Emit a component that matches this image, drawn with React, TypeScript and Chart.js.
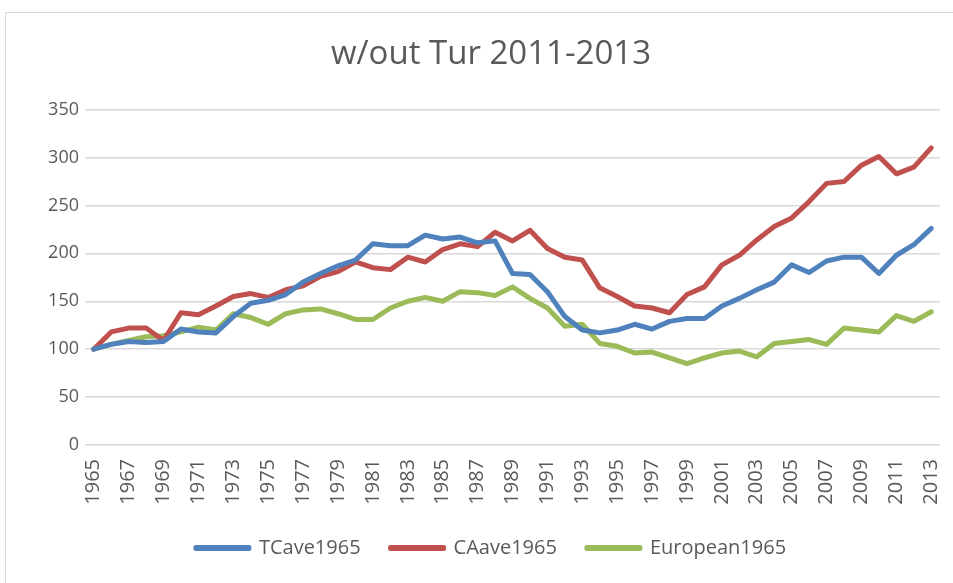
import { useEffect, useRef } from "react";
import { Chart, registerables } from "chart.js";

Chart.register(...registerables);

const years = [
  "1965", "1966", "1967", "1968", "1969", "1970", "1971", "1972", "1973", "1974",
  "1975", "1976", "1977", "1978", "1979", "1980", "1981", "1982", "1983", "1984",
  "1985", "1986", "1987", "1988", "1989", "1990", "1991", "1992", "1993", "1994",
  "1995", "1996", "1997", "1998", "1999", "2000", "2001", "2002", "2003", "2004",
  "2005", "2006", "2007", "2008", "2009", "2010", "2011", "2012", "2013",
];

const tcave1965 = [
  100, 105, 108, 107, 108, 121, 118, 117, 134, 148,
  151, 157, 170, 179, 187, 193, 210, 208, 208, 219,
  215, 217, 211, 213, 179, 178, 160, 134, 120, 117,
  120, 126, 121, 129, 132, 132, 145, 153, 162, 170,
  188, 180, 192, 196, 196, 179, 198, 209, 226,
];

const caave1965 = [
  100, 118, 122, 122, 109, 138, 136, 145, 155, 158,
  154, 162, 166, 176, 181, 191, 185, 183, 196, 191,
  204, 210, 207, 222, 213, 224, 205, 196, 193, 164,
  155, 145, 143, 138, 157, 165, 188, 198, 214, 228,
  237, 254, 273, 275, 292, 301, 283, 290, 310,
];

const european1965 = [
  100, 105, 109, 113, 114, 118, 123, 120, 137, 133,
  126, 137, 141, 142, 137, 131, 131, 143, 150, 154,
  150, 160, 159, 156, 165, 153, 143, 124, 126, 106,
  103, 96, 97, 91, 85, 91, 96, 98, 92, 106,
  108, 110, 105, 122, 120, 118, 135, 129, 139,
];

const seriesNames = ["TCave1965", "CAave1965", "European1965"];
const seriesColors = ["#4F81BD", "#C0504D", "#9BBB59"];
const titleText = "w/out Tur 2011-2013";

const textColor = "#595959";
const fontFamily = "'Open Sans', 'Liberation Sans', sans-serif";

export default function App() {
  const ref = useRef<HTMLCanvasElement | null>(null);

  useEffect(() => {
    if (!ref.current) return;
    const values = [tcave1965, caave1965, european1965];
    const chart = new Chart(ref.current, {
      type: "line",
      data: {
        labels: years,
        datasets: values.map((d, i) => ({
          label: seriesNames[i],
          data: d,
          borderColor: seriesColors[i],
          backgroundColor: seriesColors[i],
          borderWidth: 5,
          pointRadius: 0,
          pointHoverRadius: 0,
          tension: 0,
          borderJoinStyle: "round" as const,
          borderCapStyle: "round" as const,
          fill: false,
        })),
      },
      options: {
        animation: false,
        responsive: false,
        devicePixelRatio: 1,
        layout: { padding: { left: 42, right: 13, top: 0, bottom: 15 } },
        plugins: {
          title: {
            display: true,
            text: titleText,
            color: textColor,
            font: { family: fontFamily, size: 33, weight: "normal" },
            padding: { top: 35, bottom: 35 },
          },
          legend: {
            position: "bottom",
            labels: {
              color: textColor,
              font: { family: fontFamily, size: 20 },
              boxWidth: 53,
              boxHeight: 1,
              padding: 30,
            },
          },
          tooltip: { enabled: false },
        },
        scales: {
          x: {
            offset: true,
            grid: { display: false, drawTicks: false },
            border: { display: false },
            ticks: {
              autoSkip: false,
              maxRotation: 90,
              minRotation: 90,
              padding: 14,
              color: textColor,
              font: { family: fontFamily, size: 20 },
              callback: function (this: any, v: any, i: number) {
                return i % 2 === 0 ? this.getLabelForValue(v) : "";
              },
            },
            afterFit: (s: any) => {
              s.height = 63;
              s.paddingLeft = 0;
              s.paddingRight = 0;
            },
          },
          y: {
            min: 0,
            max: 350,
            ticks: {
              stepSize: 50,
              padding: 6,
              color: textColor,
              font: { family: fontFamily, size: 18 },
            },
            grid: { color: "#d9d9d9", lineWidth: 1.5, drawTicks: false },
            border: { display: false },
            afterFit: (s: any) => {
              s.width = 43;
            },
          },
        },
      },
    });
    return () => chart.destroy();
  }, []);

  return (
    <div
      style={{
        position: "fixed",
        left: 0,
        top: 0,
        width: 953,
        height: 583,
        overflow: "hidden",
        background: "#ffffff",
      }}
    >
      <div
        style={{
          position: "absolute",
          left: 5,
          top: 12,
          width: 1000,
          height: 1000,
          border: "1px solid #d9d9d9",
          boxSizing: "border-box",
        }}
      />
      <canvas
        ref={ref}
        width={953}
        height={583}
        style={{ position: "absolute", left: 0, top: 0, width: 953, height: 583 }}
      />
    </div>
  );
}
